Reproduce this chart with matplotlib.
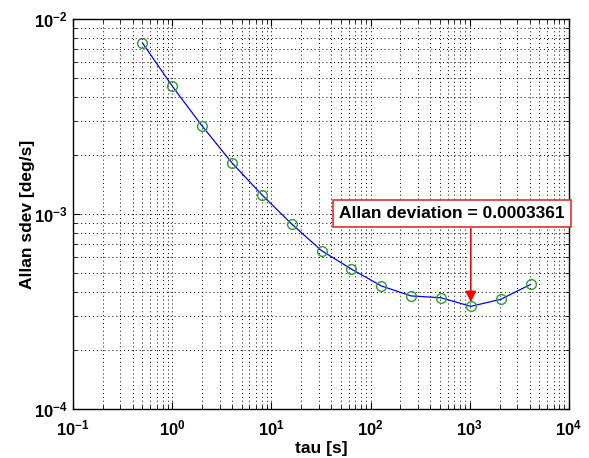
import numpy as np
import matplotlib.pyplot as plt
from matplotlib.ticker import LogLocator, NullFormatter

plt.rcParams['font.family'] = ['Liberation Sans', 'DejaVu Sans']
plt.rcParams['font.weight'] = 'bold'

# Allan deviation per cluster time
tau = [0.5, 1, 2, 4, 8, 16, 32, 64, 128, 256, 512, 1024, 2048, 4096]
adev = [7.55e-3, 4.53e-3, 2.83e-3, 1.83e-3, 1.256e-3, 8.89e-4, 6.49e-4,
        5.22e-4, 4.28e-4, 3.80e-4, 3.72e-4, 3.361e-4, 3.65e-4, 4.35e-4]

min_idx = int(np.argmin(adev))

fig = plt.figure(figsize=(5.89, 4.58), dpi=100)
ax = fig.add_axes([0.124, 0.107, 0.842, 0.8515])

ax.loglog(tau, adev, '-', color='blue', lw=0.9)
ax.loglog(tau, adev, 'o', mfc='none', mec='#2ca02c', ms=7, mew=1.0)

ax.set_xlim(1e-1, 1e4)
ax.set_ylim(1e-4, 1e-2)

ax.xaxis.set_major_locator(LogLocator(base=10, numticks=10))
ax.yaxis.set_major_locator(LogLocator(base=10, numticks=10))
ax.xaxis.set_minor_locator(LogLocator(base=10, subs=np.arange(2, 10), numticks=20))
ax.yaxis.set_minor_locator(LogLocator(base=10, subs=np.arange(2, 10), numticks=20))
ax.xaxis.set_minor_formatter(NullFormatter())
ax.yaxis.set_minor_formatter(NullFormatter())

ax.grid(True, which='both', color='black', linestyle=(0, (1, 3)), linewidth=0.7)
ax.tick_params(which='both', direction='in', top=True, right=True, labelsize=12)
ax.tick_params(axis='x', which='major', pad=7)
ax.tick_params(axis='y', which='major', pad=4)
ax.tick_params(which='major', length=5)
ax.tick_params(which='minor', length=3)
for s in ax.spines.values():
    s.set_linewidth(1.0)

ax.set_xlabel('tau [s]', fontsize=12.5, fontweight='bold', labelpad=2)
ax.set_ylabel('Allan sdev [deg/s]', fontsize=12.5, fontweight='bold', labelpad=-1)

# mark the minimum: label box above, arrow down to the point
ax.text(660, 1.01e-3, 'Allan deviation = %.7f' % adev[min_idx],
        ha='center', va='center', fontsize=12.5, fontweight='bold',
        bbox=dict(boxstyle='square,pad=0.35', fc='white', ec='#e03030', lw=1.2))
ax.annotate('', xy=(tau[min_idx], adev[min_idx]), xytext=(tau[min_idx], 8.4e-4),
            arrowprops=dict(arrowstyle='-|>', color='red', lw=1.2,
                            mutation_scale=16, shrinkA=0, shrinkB=3))

fig.savefig('out.png', dpi=100)
